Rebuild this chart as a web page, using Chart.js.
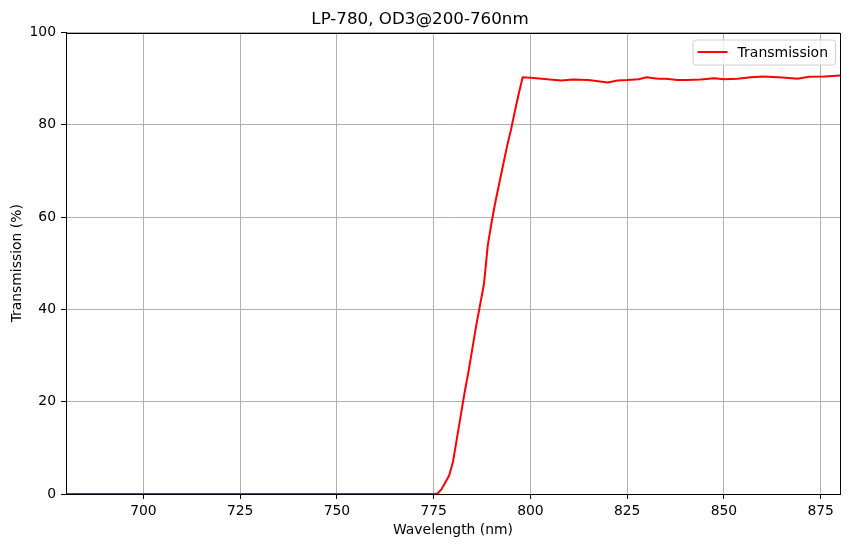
<!DOCTYPE html>
<html>
<head>
<meta charset="utf-8">
<title>LP-780 transmission</title>
<script src="https://cdn.jsdelivr.net/npm/chart.js@4.4.1/dist/chart.umd.min.js"></script>
<style>
  html, body { margin: 0; padding: 0; background: #fff; }
  #wrap { width: 850px; height: 547px; position: relative; }
</style>
</head>
<body>
<div id="wrap"><canvas id="myChart"></canvas></div>
<script>
// values
const wavelengths = [680, 700, 725, 750, 775, 776, 777, 778, 779, 780,
  781, 782, 783, 784, 785, 786, 787, 788, 789, 790,
  791, 792, 793, 794, 795, 796, 797, 798, 800, 803,
  805, 808, 811, 815, 817, 820, 822.5, 825, 828, 830,
  833, 835, 838, 840.5, 844, 847.5, 850, 853.5, 857, 860,
  864, 866, 869, 872, 876, 880];
const transmission = [0, 0, 0, 0, 0, 0.1, 1.0, 2.5, 4.0, 7.0,
  12, 17, 22, 26.5, 31.5, 36.5, 41, 45.5, 54, 59,
  63.5, 67.5, 71.5, 75.5, 79, 83, 86.8, 90.3, 90.2, 90.0,
  89.8, 89.6, 89.8, 89.7, 89.5, 89.2, 89.6, 89.7, 89.9, 90.3,
  90.0, 90.0, 89.7, 89.7, 89.8, 90.1, 89.9, 90.0, 90.3, 90.5,
  90.3, 90.2, 90.0, 90.4, 90.5, 90.7];
const xTicks = [700, 725, 750, 775, 800, 825, 850, 875];
const yTicks = [0, 20, 40, 60, 80, 100];

const FONT = "'DejaVu Sans', sans-serif";

// black box round the plot area, like the axes spines
const framePlugin = {
  id: 'frame',
  afterDatasetsDraw(chart) {
    const { ctx, chartArea: a } = chart;
    ctx.save();
    ctx.strokeStyle = '#000';
    ctx.lineWidth = 1;
    ctx.strokeRect(Math.round(a.left) + 0.5, Math.round(a.top) + 0.5,
      Math.round(a.right - a.left), Math.round(a.bottom - a.top));
    ctx.restore();
  }
};

// legend box in the upper right corner of the plot
const legendPlugin = {
  id: 'innerLegend',
  afterDraw(chart) {
    const { ctx, chartArea: a } = chart;
    const ds = chart.data.datasets[0];
    ctx.save();
    ctx.font = '14px ' + FONT;
    const tw = ctx.measureText(ds.label).width;
    const w = 5 + 30 + 10 + tw + 7;
    const h = 25;
    const x = a.right - 5 - w;
    const y = a.top + 7;
    ctx.beginPath();
    ctx.roundRect(x + 0.5, y + 0.5, w, h, 3);
    ctx.fillStyle = 'rgba(255,255,255,0.8)';
    ctx.fill();
    ctx.strokeStyle = '#d0d0d0';
    ctx.lineWidth = 1;
    ctx.stroke();
    ctx.beginPath();
    ctx.moveTo(x + 5, y + h / 2);
    ctx.lineTo(x + 35, y + h / 2);
    ctx.strokeStyle = ds.borderColor;
    ctx.lineWidth = 2;
    ctx.stroke();
    ctx.fillStyle = '#000';
    ctx.textBaseline = 'middle';
    ctx.fillText(ds.label, x + 45, y + h / 2 + 1);
    ctx.restore();
  }
};

document.addEventListener('DOMContentLoaded', () => {
  const ctx = document.getElementById('myChart').getContext('2d');
  new Chart(ctx, {
    type: 'line',
    data: {
      datasets: [{
        label: 'Transmission',
        data: wavelengths.map((w, i) => ({ x: w, y: transmission[i] })),
        borderColor: '#ff0000',
        borderWidth: 2,
        pointRadius: 0,
        tension: 0,
        fill: false
      }]
    },
    options: {
      responsive: true,
      maintainAspectRatio: false,
      animation: false,
      events: [],
      layout: { padding: { left: 0, right: 10, top: 0, bottom: 0 } },
      plugins: {
        legend: { display: false },
        tooltip: { enabled: false },
        title: {
          display: true,
          text: 'LP-780, OD3@200-760nm',
          color: '#000',
          font: { family: FONT, size: 16.7, weight: 'normal' },
          padding: { top: 9.5, bottom: 3 }
        }
      },
      scales: {
        x: {
          type: 'linear',
          min: 680,
          max: 880,
          afterBuildTicks: axis => { axis.ticks = xTicks.map(v => ({ value: v })); },
          afterFit: scale => { scale.height = 53; },
          grid: { color: '#b0b0b0', lineWidth: 1, tickLength: 5, tickColor: '#000' },
          border: { display: true, color: '#000', width: 1 },
          ticks: { color: '#000', font: { family: FONT, size: 13.9 }, padding: 4, maxRotation: 0 },
          title: {
            display: true,
            text: 'Wavelength (nm)',
            color: '#000',
            font: { family: FONT, size: 13.9 },
            padding: { top: 0, bottom: 8 }
          }
        },
        y: {
          min: 0,
          max: 100,
          afterBuildTicks: axis => { axis.ticks = yTicks.map(v => ({ value: v })); },
          afterFit: scale => { scale.width = 66; },
          grid: { color: '#b0b0b0', lineWidth: 1, tickLength: 5, tickColor: '#000' },
          border: { display: true, color: '#000', width: 1 },
          ticks: { color: '#000', font: { family: FONT, size: 13.9 }, padding: 5 },
          title: {
            display: true,
            text: 'Transmission (%)',
            color: '#000',
            font: { family: FONT, size: 13.9 },
            padding: { top: 9, bottom: 0 }
          }
        }
      }
    },
    plugins: [framePlugin, legendPlugin]
  });
});
</script>
</body>
</html>
